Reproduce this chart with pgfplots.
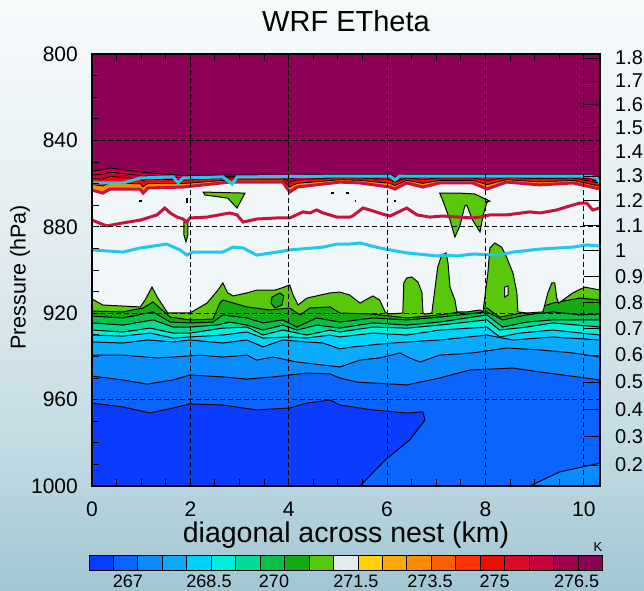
\documentclass[border=0pt]{standalone}
\usepackage{fontspec}
\setmainfont{Liberation Sans}
\usepackage{pgfplots}
\pgfplotsset{compat=1.18}

% contour band colours (coldest to warmest)
\definecolor{b1}{HTML}{0A3CFF}
\definecolor{b2}{HTML}{0A64FF}
\definecolor{b3}{HTML}{0A8CFF}
\definecolor{b4}{HTML}{0AAAFF}
\definecolor{b5}{HTML}{00D2FF}
\definecolor{b6}{HTML}{00F0DC}
\definecolor{b7}{HTML}{00DC96}
\definecolor{b8}{HTML}{0ABE46}
\definecolor{b9}{HTML}{14AA14}
\definecolor{b10}{HTML}{5AC80A}
\definecolor{b11}{HTML}{F1F6F8}
\definecolor{b11bar}{HTML}{E4ECF0}
\definecolor{b12}{HTML}{FFD200}
\definecolor{b13}{HTML}{FFAA00}
\definecolor{b14}{HTML}{FF8C00}
\definecolor{b15}{HTML}{FF5F00}
\definecolor{b16}{HTML}{FF3200}
\definecolor{b17}{HTML}{F00A00}
\definecolor{b18}{HTML}{DC0A28}
\definecolor{b19}{HTML}{C8003C}
\definecolor{b20}{HTML}{A0004B}
\definecolor{b21}{HTML}{8C0055}
\definecolor{cyanline}{HTML}{20C8F0}
\definecolor{redline}{HTML}{C8143C}
\definecolor{bgtop}{HTML}{F6FAFB}
\definecolor{bgmid}{HTML}{E3EDF1}
\definecolor{bglow}{HTML}{C4DCE4}
\definecolor{bgbot}{HTML}{A2C6D2}

\pgfdeclareverticalshading{sky}{100bp}{color(0bp)=(bgbot); color(25bp)=(bgbot); color(38bp)=(bglow); color(55bp)=(bgmid); color(75bp)=(bgtop); color(100bp)=(bgtop)}

\newcommand{\ticksize}{\fontsize{21}{21}\selectfont}

\begin{document}
\begin{tikzpicture}
\useasboundingbox (0pt,0pt) rectangle (644pt,590pt);
\shade[shading=sky] (0pt,0pt) rectangle (644pt,590pt);

\begin{axis}[
  at={(92pt,104pt)}, anchor=south west,
  width=508pt, height=432pt, scale only axis,
  xmin=0, xmax=10.33, ymin=800, ymax=1000, y dir=reverse,
  axis on top,
  axis line style={line width=1.2pt},
  xtick={0,2,4,6,8,10}, xticklabels={0,2,4,6,8,10},
  minor xtick={0.5,1,...,10},
  ytick={800,840,880,920,960,1000}, yticklabels={800,840,880,920,960,1000},
  minor ytick={810,820,...,990},
  tick align=inside,
  xtick pos=both, xticklabel pos=lower, ytick pos=left,
  major tick length=7pt, minor tick length=7pt,
  tick style={black, line width=1pt},
  grid=major,
  grid style={black, line width=0.9pt, dash pattern=on 5pt off 3pt},
  tick label style={font=\ticksize},
  xticklabel style={inner sep=0pt, yshift=-16pt},
  yticklabel style={inner sep=0pt, xshift=-14pt},
]
% coldest band fills the whole section
\addplot[fill=b1, draw=none] coordinates {(0,800) (10.33,800) (10.33,1000) (0,1000)} --cycle;
% 267 K
\addplot[fill=b2, draw=black, line width=1pt] coordinates {(0,961.6) (0.63,963.4) (1.18,966.2) (1.65,963.9) (1.99,962.0) (2.66,962.5) (3.35,964.8) (4.02,963.9) (4.37,961.6) (4.84,960.2) (5.04,962.5) (5.71,964.8) (6.40,966.2) (6.73,965.7) (6.77,969.4) (6.46,978.7) (5.96,988.0) (5.45,1000) (10.33,1000) (10.33,800) (0,800)} --cycle;
\addplot[fill=b3, draw=black, line width=1pt] coordinates {(0,949.1) (0.63,950.9) (1.12,952.8) (1.65,950.9) (1.99,948.6) (2.66,949.5) (3.15,950.5) (3.68,949.5) (4.37,947.7) (4.84,948.1) (5.04,950.0) (5.39,951.9) (6.40,953.2) (7.07,950.0) (7.68,946.3) (8.56,945.4) (9.11,947.2) (10.33,950.9) (10.33,800) (0,800)} --cycle;
\addplot[fill=b3, draw=black, line width=1pt] coordinates {(8.90,1000) (9.51,993.5) (10.33,989.4) (10.33,1000)} --cycle;
\addplot[fill=b4, draw=black, line width=1pt] coordinates {(0,939.4) (0.63,939.4) (1.32,940.7) (1.65,940.3) (2.20,939.4) (2.66,940.3) (3.15,939.4) (3.35,941.7) (3.68,940.3) (4.17,942.6) (4.70,944.0) (5.04,944.9) (5.45,941.7) (5.85,940.7) (6.26,938.4) (6.46,940.7) (6.67,942.6) (7.07,939.4) (7.74,938.4) (8.43,936.1) (9.11,937.0) (9.78,938.4) (10.33,940.3) (10.33,800) (0,800)} --cycle;
\addplot[fill=b5, draw=black, line width=1pt] coordinates {(0,933.3) (0.63,933.8) (1.12,932.4) (1.65,933.3) (1.99,932.4) (2.66,933.8) (3.15,932.4) (3.48,935.6) (3.88,932.4) (4.37,933.3) (4.70,933.8) (5.04,936.5) (5.30,935.6) (5.85,934.3) (6.40,933.3) (7.07,932.4) (8.03,930.1) (8.56,932.4) (9.37,931.0) (10.33,932.4) (10.33,800) (0,800)} --cycle;
\addplot[fill=b6, draw=black, line width=1pt] coordinates {(0,930.1) (0.63,930.6) (1.18,929.2) (1.65,931.5) (1.99,931.0) (2.66,930.1) (3.15,928.7) (3.48,931.5) (4.02,931.0) (4.37,931.5) (4.84,930.1) (5.04,931.0) (5.71,929.2) (6.40,930.1) (7.07,927.8) (8.03,926.4) (8.29,931.0) (8.70,929.2) (9.37,927.8) (10.33,930.1) (10.33,800) (0,800)} --cycle;
\addplot[fill=b7, draw=black, line width=1pt] coordinates {(0,927.8) (0.63,928.7) (1.18,926.9) (1.65,929.2) (1.99,929.2) (2.66,926.9) (3.15,926.4) (3.48,930.1) (3.88,927.8) (4.37,930.1) (4.84,927.8) (5.04,928.7) (5.71,926.4) (6.40,926.9) (7.07,925.5) (8.03,923.1) (8.29,927.8) (8.84,926.4) (9.37,924.5) (10.33,926.4) (10.33,800) (0,800)} --cycle;
\addplot[fill=b8, draw=black, line width=1pt] coordinates {(0,924.5) (0.63,925.5) (1.24,923.1) (1.65,926.4) (1.99,926.4) (2.54,925.5) (2.80,924.1) (3.15,925.5) (3.48,927.8) (3.88,925.5) (4.17,927.8) (4.57,925.5) (5.04,926.9) (5.71,924.5) (6.40,925.5) (7.07,924.1) (8.03,920.8) (8.35,926.4) (8.84,924.1) (9.37,923.1) (10.33,923.1) (10.33,800) (0,800)} --cycle;
\addplot[fill=b9, draw=black, line width=1pt] coordinates {(0,921.3) (0.63,922.2) (1.24,919.4) (1.59,924.1) (1.99,924.5) (2.46,924.1) (2.66,920.8) (3.15,922.2) (3.48,924.5) (3.88,923.1) (4.17,926.4) (4.57,922.2) (5.04,924.1) (5.71,922.2) (6.40,923.1) (7.07,921.8) (8.03,919.4) (8.35,923.1) (8.84,920.8) (9.37,919.4) (9.92,920.8) (10.33,920.4) (10.33,800) (0,800)} --cycle;
\addplot[fill=b10, draw=black, line width=1pt] coordinates {(0,919.0) (0.63,919.4) (1.04,917.6) (1.24,914.8) (1.59,921.8) (1.99,923.1) (2.46,922.7) (2.60,915.3) (2.66,913.9) (2.80,914.8) (3.15,917.1) (3.62,918.5) (4.02,917.6) (4.23,920.8) (4.43,917.6) (4.84,917.1) (5.04,919.9) (5.71,920.4) (6.40,922.2) (7.07,920.8) (8.03,917.6) (8.29,921.8) (8.84,919.4) (9.37,915.3) (9.92,913.0) (10.33,913.9) (10.33,800) (0,800)} --cycle;
% 271.5 K: top of the moist layer with its plumes
\addplot[fill=b11, draw=black, line width=1pt] coordinates {(0,913.4) (0.22,916.2) (0.98,917.1) (1.08,913.9) (1.22,907.9) (1.34,913.0) (1.54,919.9) (1.99,919.9) (2.34,915.3) (2.56,909.3) (2.66,906.0) (2.76,910.6) (2.87,912.0) (3.15,910.6) (3.35,909.3) (3.72,909.3) (3.86,908.3) (4.02,906.9) (4.09,911.6) (4.19,916.2) (4.37,913.0) (4.84,910.6) (5.04,910.2) (5.24,911.6) (5.45,915.3) (5.71,912.0) (5.85,913.9) (5.96,919.4) (6.02,920.4) (6.32,919.9) (6.34,906.0) (6.40,903.7) (6.50,903.2) (6.63,905.6) (6.71,910.6) (6.73,919.9) (6.77,920.4) (6.91,919.9) (6.97,909.3) (7.03,898.6) (7.11,893.1) (7.20,892.1) (7.24,896.8) (7.28,907.9) (7.38,913.9) (7.42,919.4) (7.62,919.4) (7.89,918.5) (7.95,919.4) (8.05,901.4) (8.09,889.8) (8.19,887.5) (8.33,889.4) (8.43,894.0) (8.56,901.4) (8.64,910.6) (8.66,919.4) (8.84,919.9) (9.17,919.4) (9.27,910.6) (9.35,906.0) (9.41,906.0) (9.45,912.9) (9.49,915.3) (9.78,910.6) (10.02,907.9) (10.33,909.3) (10.33,800) (0,800)} --cycle;
% detached moist cells
\addplot[fill=b10, draw=black, line width=1pt] coordinates {(2.26,863.9) (3.11,864.4) (2.95,871.3) (2.76,866.7) (2.30,865.3)} --cycle;
\addplot[fill=b10, draw=black, line width=1pt] coordinates {(1.87,877.8) (1.95,877.8) (1.95,883.8) (1.91,887.0) (1.87,883.8)} --cycle;
\addplot[fill=b10, draw=black, line width=1pt] coordinates {(7.07,864.4) (7.48,864.4) (7.78,864.8) (8.09,868.1) (8.03,868.5) (7.95,875.0) (7.89,882.4) (7.74,876.9) (7.62,869.9) (7.58,870.4) (7.48,879.6) (7.38,884.7) (7.28,876.9) (7.13,867.6)} --cycle;
\addplot[fill=b9, draw=black, line width=1pt] coordinates {(3.66,912.5) (3.82,910.6) (3.90,912.0) (3.86,916.2) (3.72,917.6) (3.64,915.3)} --cycle;
\addplot[fill=b11, draw=black, line width=1pt] coordinates {(8.39,907.9) (8.46,907.4) (8.46,911.6) (8.39,912.5)} --cycle;
% inversion layer
\addplot[fill=b14, draw=black, line width=0.8pt] coordinates {(0,863.0) (0.22,864.4) (0.37,862.5) (0.98,862.5) (1.04,864.4) (1.14,862.0) (1.85,861.6) (2.80,859.3) (3.88,859.3) (4.02,863.9) (4.17,861.6) (5.04,859.3) (5.45,859.7) (6.06,861.6) (6.16,862.5) (6.40,859.7) (6.73,861.6) (7.07,859.7) (7.74,859.7) (8.03,862.5) (8.43,859.3) (9.11,860.6) (9.78,859.7) (10.33,862.5) (10.33,800) (0,800)} --cycle;
\addplot[fill=b17, draw=black, line width=0.8pt] coordinates {(0,860.4) (0.22,861.1) (0.37,859.6) (0.98,860.1) (1.04,861.5) (1.14,859.9) (1.85,860.0) (2.80,858.3) (3.88,858.3) (4.02,861.6) (4.17,859.9) (5.04,858.2) (5.45,858.5) (6.06,859.9) (6.16,860.9) (6.40,858.5) (6.73,859.9) (7.07,858.5) (7.74,858.5) (8.03,860.5) (8.43,858.2) (9.11,859.2) (9.78,858.5) (10.33,861.2) (10.33,800) (0,800)} --cycle;
\addplot[fill=b19, draw=black, line width=0.8pt] coordinates {(0,857.7) (0.22,857.9) (0.37,856.7) (0.98,857.8) (1.04,858.6) (1.14,857.8) (1.85,858.4) (2.80,857.3) (3.88,857.3) (4.02,859.3) (4.17,858.2) (5.04,857.2) (5.45,857.4) (6.06,858.1) (6.16,859.2) (6.40,857.4) (6.73,858.1) (7.07,857.4) (7.74,857.4) (8.03,858.5) (8.43,857.2) (9.11,857.7) (9.78,857.4) (10.33,859.8) (10.33,800) (0,800)} --cycle;
\addplot[black, line width=0.8pt] coordinates {(0,856.0) (0.22,855.7) (0.37,854.7) (0.98,856.2) (1.04,856.7) (1.14,856.4) (1.85,857.3) (2.80,856.7) (3.88,856.7) (4.02,857.8) (4.17,857.1) (5.04,856.5) (5.45,856.6) (6.06,857.0) (6.16,858.1) (6.40,856.6) (6.73,857.0) (7.07,856.6) (7.74,856.6) (8.03,857.1) (8.43,856.5) (9.11,856.8) (9.78,856.6) (10.33,858.9)};
\addplot[fill=b21, draw=black, line width=0.8pt] coordinates {(0,854.2) (0.22,853.5) (0.37,852.8) (0.98,854.6) (1.04,854.8) (1.14,855.0) (1.85,856.2) (2.80,856.0) (3.88,856.0) (4.02,856.3) (4.17,856.0) (5.04,855.8) (6.06,855.8) (6.16,857.0) (6.40,855.8) (10.12,855.8) (10.33,858.0) (10.33,800) (0,800)} --cycle;
% small closed contours in the dry layer
\addplot[black, line width=1.4pt] coordinates {(0.96,868.1) (1.02,868.1)};
\addplot[black, line width=1.4pt] coordinates {(1.93,866.7) (1.93,869.0)};
\addplot[black, line width=1.4pt] coordinates {(5.16,864.4) (5.22,864.4)};
\addplot[black, line width=1.4pt] coordinates {(5.34,868.1) (5.37,868.1)};
\addplot[black, line width=1.4pt] coordinates {(6.14,868.1) (6.18,868.1)};
\addplot[black, line width=1.4pt] coordinates {(8.01,868.5) (8.06,868.5)};
\addplot[black, line width=1.4pt] coordinates {(4.86,864.4) (4.93,864.4)};
% overlaid lines
\addplot[redline, line width=3pt] coordinates {(0,863.0) (0.22,864.4) (0.37,862.5) (0.98,862.5) (1.04,864.4) (1.14,862.0) (1.85,861.6) (2.80,859.3) (3.88,859.3) (4.02,863.9) (4.17,861.6) (5.04,859.3) (5.45,859.7) (6.06,861.6) (6.16,862.5) (6.40,859.7) (6.73,861.6) (7.07,859.7) (7.74,859.7) (8.03,862.5) (8.43,859.3) (9.11,860.6) (9.78,859.7) (10.33,862.5)};
\addplot[cyanline, line width=3pt] coordinates {(0,859.7) (0.63,859.7) (0.98,857.4) (1.65,856.9) (1.75,859.7) (1.85,857.4) (2.66,856.9) (2.85,860.2) (2.95,856.9) (5.24,856.5) (6.06,856.5) (6.16,858.3) (6.26,856.5) (10.12,856.5) (10.26,857.4) (10.33,859.7)};
\addplot[redline, line width=3pt] coordinates {(0,876.9) (0.30,879.6) (0.63,878.2) (0.98,876.9) (1.32,874.5) (1.48,871.3) (1.59,873.6) (1.73,875.5) (1.85,876.4) (1.93,877.8) (1.99,875.9) (2.34,875.5) (2.80,873.6) (2.95,874.5) (3.07,877.8) (3.35,876.4) (3.76,875.9) (4.02,875.9) (4.29,873.1) (4.43,873.6) (4.57,872.2) (4.70,873.6) (4.98,875.5) (5.24,875.5) (5.30,875.0) (5.51,871.3) (5.65,872.2) (5.91,874.1) (6.06,875.0) (6.40,871.3) (6.61,874.5) (6.87,875.5) (7.13,875.0) (7.74,875.9) (7.89,875.5) (8.09,874.5) (8.43,874.5) (8.90,873.1) (9.11,873.6) (9.45,872.2) (9.78,869.9) (9.92,869.0) (10.06,869.0) (10.18,872.2) (10.33,871.3)};
\addplot[cyanline, line width=3pt] coordinates {(0,890.7) (0.63,891.7) (0.98,889.8) (1.52,888.0) (1.79,890.7) (1.93,893.1) (2.05,891.7) (2.66,891.7) (2.87,889.4) (3.07,889.8) (3.35,893.1) (3.76,891.7) (4.02,890.7) (4.70,889.4) (4.98,888.0) (5.24,888.0) (5.45,887.5) (5.85,889.8) (6.40,892.1) (7.03,893.5) (7.13,893.1) (7.42,893.5) (7.74,892.6) (8.29,893.1) (8.56,891.7) (9.11,890.3) (9.78,889.4) (10.06,888.4) (10.33,888.9)};
\end{axis}

% height scale on the right
\begin{axis}[
  at={(92pt,104pt)}, anchor=south west,
  width=508pt, height=432pt, scale only axis,
  xmin=0, xmax=10.33, ymin=800, ymax=1000, y dir=reverse,
  axis x line=none, axis y line*=right,
  axis line style={line width=1.2pt},
  ytick={801.9,812.5,823.3,834.2,845.3,856.5,867.9,879.4,891.1,902.9,914.9,927.1,939.4,951.9,964.5,977.3,990.3},
  yticklabels={1.8,1.7,1.6,1.5,1.4,1.3,1.2,1.1,1,0.9,0.8,0.7,0.6,0.5,0.4,0.3,0.2},
  tick align=inside, major tick length=16pt,
  tick style={black, line width=1pt},
  yticklabel style={font=\fontsize{20}{20}\selectfont, inner sep=0pt, xshift=15pt},
]
\end{axis}

\node[font=\fontsize{29}{29}\selectfont] at (346pt,568.4pt) {WRF ETheta};
\node[font=\fontsize{28.5}{28.5}\selectfont, inner sep=0pt] at (346pt,55pt) {diagonal across nest (km)};
\node[font=\fontsize{21.5}{21.5}\selectfont, rotate=90] at (20pt,312.5pt) {Pressure (hPa)};

% label bar
\foreach \c [count=\i from 0] in {b1,b2,b3,b4,b5,b6,b7,b8,b9,b10,b11bar,b12,b13,b14,b15,b16,b17,b18,b19,b20,b21}
  \filldraw[fill=\c, draw=black, line width=0.9pt] ({(89+\i*24.45)*1pt},20pt) rectangle ({(89+(\i+1)*24.45)*1pt},35pt);
\begin{scope}[font=\fontsize{18}{18}\selectfont]
\node at (127.8pt,9pt) {267};
\node at (209pt,9pt) {268.5};
\node at (274pt,9pt) {270};
\node at (355.8pt,9pt) {271.5};
\node at (430pt,9pt) {273.5};
\node at (494.7pt,9pt) {275};
\node at (576.6pt,9pt) {276.5};
\end{scope}
\node[font=\fontsize{13}{13}\selectfont] at (598pt,43pt) {K};
\end{tikzpicture}
\end{document}
